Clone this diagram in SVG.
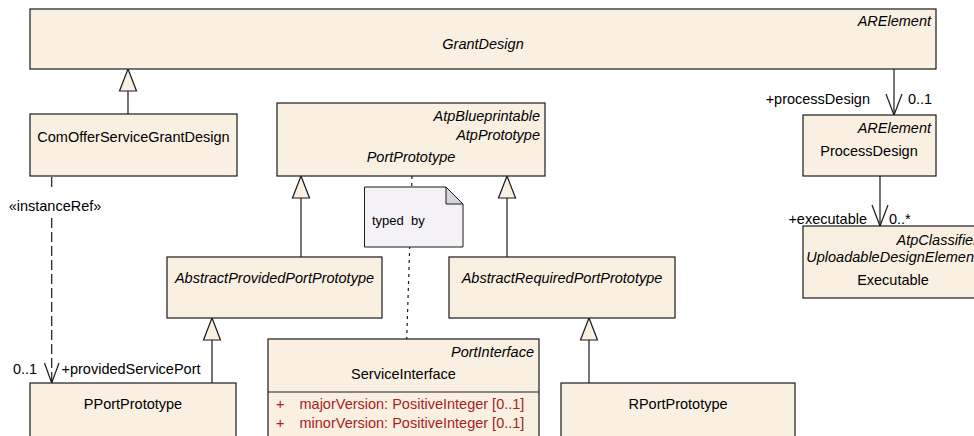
<svg xmlns="http://www.w3.org/2000/svg" width="974" height="436" viewBox="0 0 974 436">
<style>
text{font-family:"Liberation Sans",Arial,sans-serif;font-size:14.5px;fill:#000}
.it{font-style:italic}
.m{text-anchor:middle}
.e{text-anchor:end}
.box{fill:#FAF0E2;stroke:#1a1a1a;stroke-width:1.2}
.ln{fill:none;stroke:#1a1a1a;stroke-width:1.2}
.tri{fill:#FAF0E2;stroke:#1a1a1a;stroke-width:1.2}
.attr{fill:#A52222}
.note{fill:#F5F2F7;stroke:#1a1a1a;stroke-width:1}
.fold{fill:#D6D6DA;stroke:#1a1a1a;stroke-width:1}
.dash{fill:none;stroke:#1a1a1a;stroke-width:1.2;stroke-dasharray:10,4}
.dot{fill:none;stroke:#1a1a1a;stroke-width:1.2;stroke-dasharray:3,4}
.nt{font-family:"Liberation Sans",Arial,sans-serif;font-size:13px;white-space:pre}
</style>
<g id="connectors">
  <!-- generalizations -->
  <line class="ln" x1="128" y1="91" x2="128" y2="114"/>
  <polygon class="tri" points="128,69 119.5,91 136.5,91"/>
  <line class="ln" x1="301" y1="198" x2="301" y2="257"/>
  <polygon class="tri" points="301,176 292.5,198 309.5,198"/>
  <line class="ln" x1="507" y1="198" x2="507" y2="257"/>
  <polygon class="tri" points="507,176 498.5,198 515.5,198"/>
  <line class="ln" x1="212" y1="340" x2="212" y2="383"/>
  <polygon class="tri" points="212,318 203.5,340 220.5,340"/>
  <line class="ln" x1="589" y1="340" x2="589" y2="383"/>
  <polygon class="tri" points="589,318 580.5,340 597.5,340"/>
  <!-- associations -->
  <line class="ln" x1="894" y1="69" x2="894" y2="115"/>
  <polyline class="ln" points="886,94 894,115 902,94"/>
  <text x="870" y="104" class="e">+processDesign</text>
  <text x="908" y="104">0..1</text>
  <line class="ln" x1="880" y1="176" x2="880" y2="226"/>
  <polyline class="ln" points="872,205 880,226 888,205"/>
  <text x="867" y="224" class="e">+executable</text>
  <text x="889" y="224">0..*</text>
  <!-- instanceRef -->
  <line class="dash" x1="51.7" y1="177" x2="51.7" y2="190"/>
  <line class="dash" x1="51.7" y1="218" x2="51.7" y2="382"/>
  <polyline class="ln" points="44.5,363 51.7,383 59,363"/>
  <text x="55" y="210.5" class="m">«instanceRef»</text>
  <text x="13" y="373.5">0..1</text>
  <text x="61.5" y="373.5">+providedServicePort</text>
  <!-- typed by -->
  <line class="dot" x1="412" y1="176" x2="406.7" y2="339"/>
</g>
<g id="GrantDesign">
  <rect class="box" x="30" y="9" width="906" height="60"/>
  <text x="931" y="26" class="e it">ARElement</text>
  <text x="483" y="49" class="m it">GrantDesign</text>
</g>
<g id="ComOfferServiceGrantDesign">
  <rect class="box" x="30" y="114" width="207" height="62"/>
  <text x="133.5" y="141.5" class="m">ComOfferServiceGrantDesign</text>
</g>
<g id="PortPrototype">
  <rect class="box" x="277" y="103" width="268" height="73"/>
  <text x="540" y="121" class="e it">AtpBlueprintable</text>
  <text x="540" y="139.5" class="e it">AtpPrototype</text>
  <text x="411" y="162" class="m it">PortPrototype</text>
</g>
<g id="note">
  <path class="note" d="M364.5,187 H446 L463,204 V247 H364.5 Z"/>
  <path class="fold" d="M446,187 V204 H463 Z"/>
  <text x="372" y="224.5" class="nt" xml:space="preserve">typed  by</text>
</g>
<g id="ProcessDesign">
  <rect class="box" x="803" y="115" width="133" height="61"/>
  <text x="931" y="133" class="e it">ARElement</text>
  <text x="869" y="155.5" class="m">ProcessDesign</text>
</g>
<g id="Executable">
  <rect class="box" x="803" y="226" width="180" height="72"/>
  <text x="978" y="244.5" class="e it">AtpClassifier</text>
  <text x="978" y="262" class="e it">UploadableDesignElement</text>
  <text x="893" y="285" class="m">Executable</text>
</g>
<g id="AbstractProvidedPortPrototype">
  <rect class="box" x="167" y="257" width="215" height="61"/>
  <text x="274.5" y="282.5" class="m it">AbstractProvidedPortPrototype</text>
</g>
<g id="AbstractRequiredPortPrototype">
  <rect class="box" x="449" y="257" width="226" height="61"/>
  <text x="562" y="282.5" class="m it">AbstractRequiredPortPrototype</text>
</g>
<g id="PPortPrototype">
  <rect class="box" x="30" y="383" width="206" height="70"/>
  <text x="133" y="408.5" class="m">PPortPrototype</text>
</g>
<g id="ServiceInterface">
  <rect class="box" x="268" y="339" width="271" height="110"/>
  <line class="ln" x1="268" y1="392" x2="539" y2="392"/>
  <text x="534" y="356.5" class="e it">PortInterface</text>
  <text x="403.5" y="378.5" class="m">ServiceInterface</text>
  <text x="276" y="409" class="attr">+</text>
  <text x="299.5" y="409" class="attr">majorVersion: PositiveInteger [0..1]</text>
  <text x="276" y="428" class="attr">+</text>
  <text x="299.5" y="428" class="attr">minorVersion: PositiveInteger [0..1]</text>
</g>
<g id="RPortPrototype">
  <rect class="box" x="561" y="383" width="234" height="70"/>
  <text x="678" y="408.5" class="m">RPortPrototype</text>
</g>
</svg>
